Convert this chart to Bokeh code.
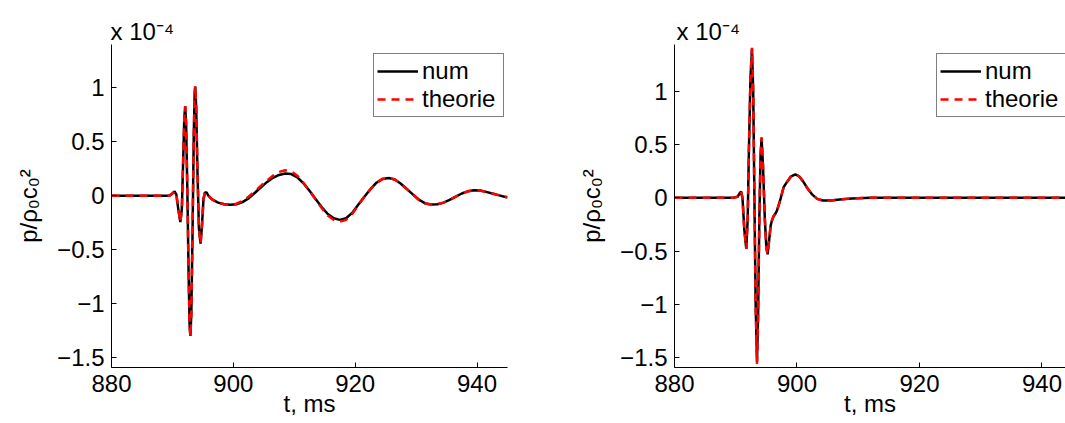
from bokeh.plotting import figure
from bokeh.models import Range1d, FixedTicker, Legend, LegendItem, Title
from bokeh.layouts import row
from bokeh.embed import file_html
from bokeh.resources import INLINE

# ---------------- data (values in units of 1e-4) ----------------
t_left_num = [880.0, 884.0, 888.0, 889.5, 890.0, 890.35, 890.65, 890.95, 891.3, 891.55,
              891.75, 891.95, 892.1, 892.25, 892.45, 892.65, 892.82, 892.95, 893.1, 893.3,
              893.5, 893.65, 893.75, 893.9, 894.1, 894.35, 894.62, 894.85, 895.1, 895.35,
              895.6, 895.9, 896.5, 897.5, 898.5, 899.5, 900.5, 901.5, 902.5, 903.5,
              904.5, 905.5, 906.5, 907.5, 908.5, 909.5, 910.5, 911.5, 912.5, 913.5,
              914.5, 915.5, 916.5, 917.5, 918.5, 919.5, 920.5, 921.5, 922.5, 923.5,
              924.5, 925.5, 926.5, 927.5, 928.5, 929.5, 930.5, 931.5, 932.5, 933.5,
              934.5, 935.5, 936.5, 937.5, 938.5, 939.5, 940.5, 941.5, 942.5, 943.5,
              944.5, 945.0]
v_left_num = [0.0, 0.0, 0.0, 0.0, 0.02, 0.04, 0.01, -0.12, -0.245, -0.12,
              0.3, 0.72, 0.83, 0.65, 0.05, -0.7, -1.2, -1.30, -1.1, -0.35,
              0.55, 0.95, 1.01, 0.82, 0.25, -0.3, -0.445, -0.28, -0.03, 0.03,
              0.03, 0.0, -0.035, -0.065, -0.08, -0.085, -0.08, -0.06, -0.025, 0.025,
              0.075, 0.125, 0.165, 0.192, 0.205, 0.2, 0.17, 0.115, 0.045, -0.03,
              -0.105, -0.17, -0.21, -0.225, -0.21, -0.16, -0.085, -0.01, 0.06, 0.12,
              0.155, 0.163, 0.15, 0.11, 0.06, 0.01, -0.04, -0.072, -0.083, -0.08,
              -0.065, -0.04, -0.01, 0.02, 0.04, 0.05, 0.047, 0.035, 0.02, 0.005,
              -0.01, -0.015]

t_left_th = t_left_num
v_left_th = [0.0, 0.0, 0.0, 0.0, 0.02, 0.04, 0.01, -0.12, -0.245, -0.12,
             0.3, 0.72, 0.83, 0.65, 0.05, -0.7, -1.2, -1.31, -1.1, -0.35,
             0.55, 0.95, 1.02, 0.82, 0.25, -0.3, -0.445, -0.28, -0.03, 0.03,
             0.03, 0.0, -0.035, -0.065, -0.08, -0.085, -0.075, -0.05, -0.01, 0.04,
             0.09, 0.14, 0.185, 0.22, 0.235, 0.225, 0.185, 0.12, 0.045, -0.035,
             -0.115, -0.185, -0.225, -0.24, -0.225, -0.17, -0.09, -0.01, 0.06, 0.12,
             0.155, 0.163, 0.15, 0.11, 0.06, 0.01, -0.04, -0.072, -0.083, -0.08,
             -0.065, -0.04, -0.01, 0.02, 0.04, 0.05, 0.047, 0.035, 0.02, 0.005,
             -0.01, -0.015]

t_right_num = [880.0, 886.0, 889.5, 890.3, 890.6, 890.86, 891.1, 891.4, 891.72, 891.95,
               892.15, 892.4, 892.65, 892.85, 893.05, 893.25, 893.47, 893.65, 893.85, 894.05,
               894.22, 894.45, 894.75, 895.0, 895.2, 895.45, 895.7, 895.92, 896.2, 896.46,
               896.73, 897.27, 897.81, 898.37, 899.0, 899.72, 900.3, 901.0, 901.7, 902.5,
               903.3, 904.2, 905.5, 907.0, 909.0, 912.0, 944.0]
v_right_num = [0.0, 0.0, 0.0, 0.01, 0.04, 0.06, 0.0, -0.3, -0.48, -0.2,
               0.45, 1.12, 1.40, 1.0, 0.0, -1.0, -1.54, -1.1, -0.2, 0.4,
               0.56, 0.3, -0.2, -0.47, -0.53, -0.4, -0.26, -0.21, -0.17, -0.15,
               -0.12, -0.02, 0.10, 0.15, 0.2, 0.22, 0.205, 0.155, 0.09, 0.03,
               -0.01, -0.025, -0.025, -0.015, -0.005, 0.0, 0.0]

t_right_th = t_right_num
v_right_th = [0.0, 0.0, 0.0, 0.01, 0.04, 0.06, 0.0, -0.3, -0.48, -0.2,
              0.45, 1.12, 1.41, 1.0, 0.0, -1.0, -1.56, -1.1, -0.2, 0.4,
              0.57, 0.3, -0.2, -0.47, -0.53, -0.4, -0.26, -0.21, -0.17, -0.15,
              -0.12, -0.02, 0.10, 0.15, 0.2, 0.22, 0.205, 0.155, 0.09, 0.03,
              -0.01, -0.025, -0.025, -0.015, -0.005, 0.0, 0.0]

x_ticks = [880, 900, 920, 940]
y_ticks = [-1.5, -1.0, -0.5, 0.0, 0.5, 1.0]
y_tick_labels = ["\u22121.5", "\u22121", "\u22120.5", "0", "0.5", "1"]
legend_labels = ["num", "theorie"]
x_label = "t, ms"
y_label = "p/\u03c1\u2080c\u2080\u00b2"
scale_text = "x 10\u207b\u2074"

FONT = "Liberation Sans"
H = 423
TOP = 44
FRAME_H = 323


def make_panel(t_num, v_num, t_th, v_th, x_end, y_range, width, border_left,
               border_right, title_offset):
    p = figure(width=width, height=H, x_range=Range1d(880, x_end),
               y_range=Range1d(*y_range), output_backend="svg", toolbar_location=None,
               min_border_left=border_left, min_border_right=border_right,
               min_border_top=TOP, min_border_bottom=H - TOP - FRAME_H)
    p.outline_line_color = None
    p.grid.visible = False
    p.background_fill_color = "white"
    p.border_fill_color = "white"

    p.title = Title(text=scale_text, align="left", offset=title_offset, standoff=0,
                    text_font=FONT, text_font_size="24px", text_font_style="normal",
                    text_color="black", vertical_align="bottom")

    p.xaxis.ticker = FixedTicker(ticks=x_ticks, minor_ticks=[])
    p.yaxis.ticker = FixedTicker(ticks=y_ticks, minor_ticks=[])
    p.yaxis.major_label_overrides = {k: s for k, s in zip(y_ticks, y_tick_labels)}
    for ax in (p.xaxis, p.yaxis):
        ax.major_tick_in = 5
        ax.major_tick_out = 0
        ax.minor_tick_in = 0
        ax.minor_tick_out = 0
        ax.axis_line_color = "black"
        ax.axis_line_width = 1
        ax.major_tick_line_color = "black"
        ax.major_label_text_font = FONT
        ax.major_label_text_font_size = "24px"
        ax.major_label_text_color = "black"
        ax.major_label_standoff = 7
        ax.axis_label_text_font = FONT
        ax.axis_label_text_font_size = "24px"
        ax.axis_label_text_font_style = "normal"
        ax.axis_label_text_color = "black"
    p.xaxis.axis_label = x_label
    p.xaxis.axis_label_standoff = -5
    p.yaxis.axis_label = y_label
    p.yaxis.axis_label_standoff = 12

    r1 = p.line(t_num, v_num, line_color="black", line_width=2.5)
    r2 = p.line(t_th, v_th, line_color="red", line_width=2.5, line_dash="8 6")

    leg = Legend(items=[LegendItem(label=legend_labels[0], renderers=[r1]),
                        LegendItem(label=legend_labels[1], renderers=[r2])],
                 location=(262, 250), padding=3, spacing=0, margin=0,
                 glyph_width=41, glyph_height=22, label_height=22, label_standoff=4,
                 label_width=78,
                 label_text_font=FONT, label_text_font_size="24px",
                 label_text_color="black", border_line_color="black",
                 border_line_width=1, background_fill_color="white",
                 background_fill_alpha=1.0)
    p.add_layout(leg)
    return p


p1 = make_panel(t_left_num, v_left_num, t_left_th, v_left_th, 945.0, (-1.593, 1.401),
                570, 111, 63, -1)
p2 = make_panel(t_right_num, v_right_num, t_right_th, v_right_th, 943.84, (-1.594, 1.441),
                495, 104, 0, 2)

layout = row(p1, p2)
open("out.html", "w").write(file_html(layout, INLINE))
